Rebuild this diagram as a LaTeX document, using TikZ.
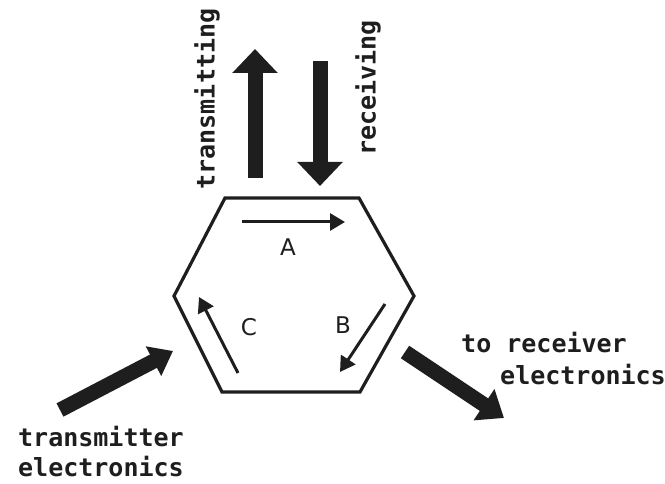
\documentclass[tikz,border=0pt]{standalone}
\usepackage{fontspec}
\newfontfamily\monofont{DejaVu Sans Mono}
\newfontfamily\lblfont{DejaVu Sans}
\usetikzlibrary{arrows.meta}
\definecolor{ink}{HTML}{1E1E1E}
\tikzset{
  bigarrow/.style={draw=ink, line width=15pt, -{Triangle[width=44pt,length=24pt]}},
  smallarrow/.style={draw=ink, line width=3pt, -{Triangle[width=17pt,length=15pt]}},
  hexline/.style={draw=ink, line width=3.2pt, line join=miter},
  caption/.style={font=\monofont\bfseries\fontsize{25}{29}\selectfont, text=ink, inner sep=0pt},
  letter/.style={font=\lblfont\fontsize{23}{25}\selectfont, text=ink, inner sep=0pt}
}
\begin{document}
\begin{tikzpicture}[x=1pt,y=-1pt]
\useasboundingbox (0,0) rectangle (665,484);
\fill[white] (0,0) rectangle (665,484);
% hexagon
\coordinate (h1) at (225,198);
\coordinate (h2) at (359,198);
\coordinate (h3) at (414,296);
\coordinate (h4) at (360,392);
\coordinate (h5) at (222,392);
\coordinate (h6) at (174,296);
\draw[hexline] (h1) -- (h2) -- (h3) -- (h4) -- (h5) -- (h6) -- cycle;
% inner arrows
\coordinate (a1) at (242,222);
\coordinate (a2) at (345,222);
\coordinate (b1) at (385,304);
\coordinate (b2) at (340,372);
\coordinate (c1) at (238,373);
\coordinate (c2) at (199,297);
\draw[smallarrow] (a1) -- (a2);
\draw[smallarrow] (b1) -- (b2);
\draw[smallarrow] (c1) -- (c2);
\node[letter] (la) at (288,247) {A};
\node[letter] (lb) at (343,325) {B};
\node[letter] (lc) at (249,327) {C};
% big arrows
\coordinate (t1) at (255,178);
\coordinate (t2) at (255,49);
\coordinate (r1) at (320,61);
\coordinate (r2) at (320,186);
\draw[bigarrow] (t1) -- (t2);
\draw[bigarrow] (r1) -- (r2);
\coordinate (x1) at (60,410);
\coordinate (x2) at (173,351);
\coordinate (y1) at (405,352);
\coordinate (y2) at (504,418);
\draw[bigarrow, -{Triangle[width=32pt,length=22pt]}] (x1) -- (x2);
\draw[bigarrow, -{Triangle[width=36pt,length=24pt]}] (y1) -- (y2);
% captions
\node[caption, rotate=90] (tr) at (207,99) {transmitting};
\node[caption, rotate=90] (rc) at (368,88) {receiving};
\node[caption, anchor=west] (te1) at (18,437) {transmitter};
\node[caption, anchor=west] (te2) at (18,467) {electronics};
\node[caption, anchor=west] (re1) at (461,343) {to receiver};
\node[caption, anchor=west] (re2) at (500,375) {electronics};
\end{tikzpicture}
\end{document}
